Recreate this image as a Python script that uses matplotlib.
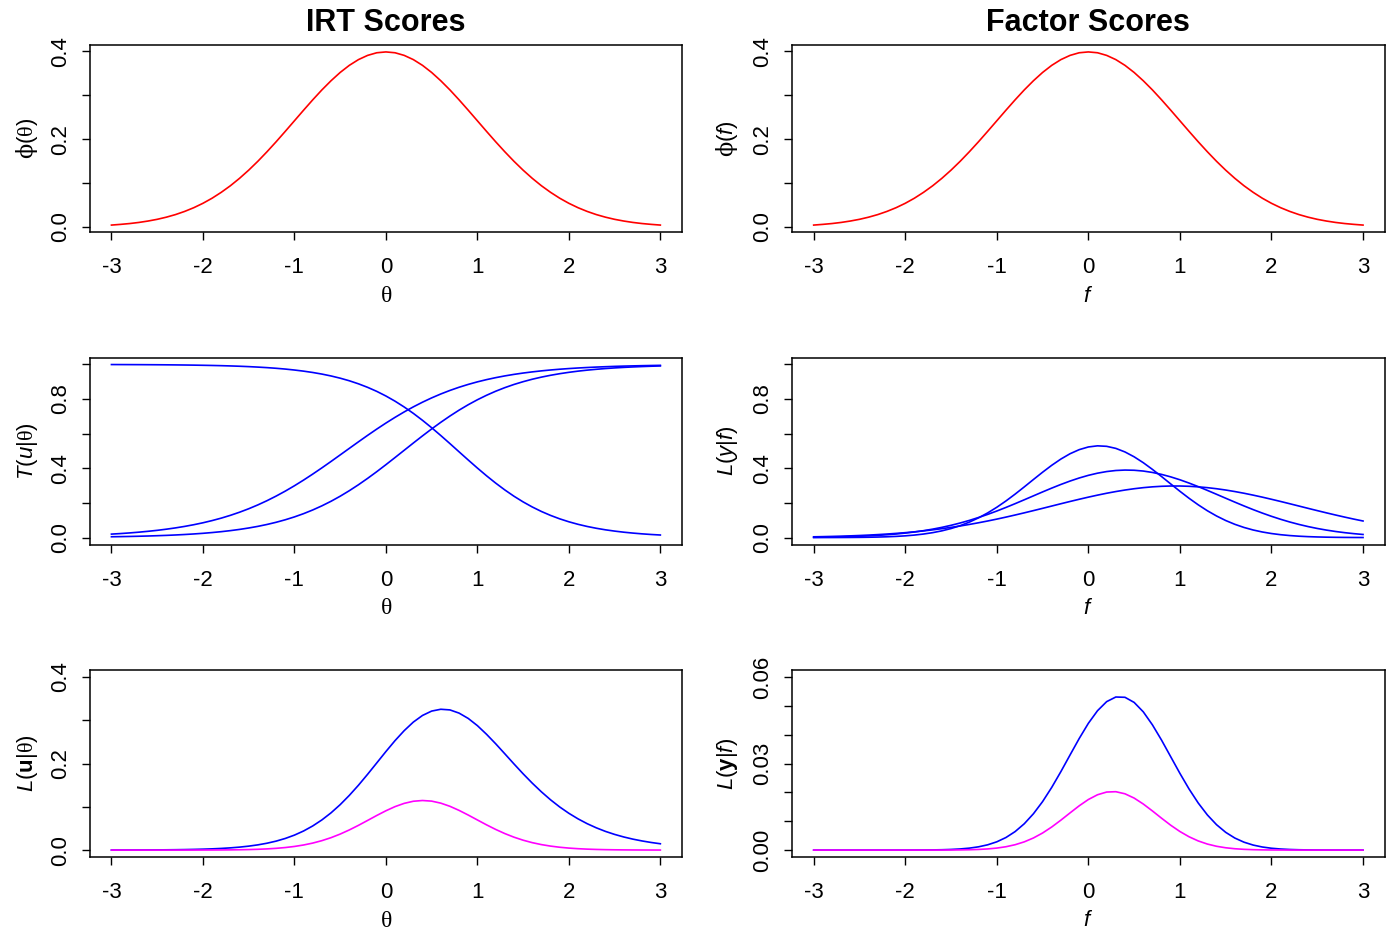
import matplotlib
matplotlib.use('Agg')
import matplotlib.pyplot as plt

plt.rcParams['font.family'] = ['Liberation Sans', 'DejaVu Sans']
plt.rcParams['mathtext.fontset'] = 'custom'
plt.rcParams['mathtext.rm'] = 'Liberation Sans'
plt.rcParams['mathtext.it'] = 'Liberation Sans:italic'
plt.rcParams['mathtext.bf'] = 'Liberation Sans:bold'
plt.rcParams['mathtext.sf'] = 'Liberation Serif'
plt.rcParams['mathtext.cal'] = 'DejaVu Serif'

# ---------------- data ----------------
grid = [-3.0, -2.9, -2.8, -2.7, -2.6, -2.5, -2.4, -2.3, -2.2, -2.1,
        -2.0, -1.9, -1.8, -1.7, -1.6, -1.5, -1.4, -1.3, -1.2, -1.1,
        -1.0, -0.9, -0.8, -0.7, -0.6, -0.5, -0.4, -0.3, -0.2, -0.1,
        0.0, 0.1, 0.2, 0.3, 0.4, 0.5, 0.6, 0.7, 0.8, 0.9,
        1.0, 1.1, 1.2, 1.3, 1.4, 1.5, 1.6, 1.7, 1.8, 1.9,
        2.0, 2.1, 2.2, 2.3, 2.4, 2.5, 2.6, 2.7, 2.8, 2.9,
        3.0]

# prior density (top panels)
prior = [0.0044, 0.0060, 0.0079, 0.0104, 0.0136, 0.0175, 0.0224, 0.0283, 0.0355, 0.0440,
         0.0540, 0.0656, 0.0790, 0.0940, 0.1109, 0.1295, 0.1497, 0.1714, 0.1942, 0.2179,
         0.2420, 0.2661, 0.2897, 0.3123, 0.3332, 0.3521, 0.3683, 0.3814, 0.3910, 0.3970,
         0.3989, 0.3970, 0.3910, 0.3814, 0.3683, 0.3521, 0.3332, 0.3123, 0.2897, 0.2661,
         0.2420, 0.2179, 0.1942, 0.1714, 0.1497, 0.1295, 0.1109, 0.0940, 0.0790, 0.0656,
         0.0540, 0.0440, 0.0355, 0.0283, 0.0224, 0.0175, 0.0136, 0.0104, 0.0079, 0.0060,
         0.0044]

# IRT trace lines T(u|theta)
irt_item1 = [0.9993, 0.9991, 0.9989, 0.9987, 0.9984, 0.9981, 0.9977, 0.9972, 0.9966, 0.9959,
             0.9950, 0.9940, 0.9928, 0.9913, 0.9895, 0.9873, 0.9846, 0.9815, 0.9777, 0.9732,
             0.9677, 0.9612, 0.9535, 0.9443, 0.9334, 0.9206, 0.9056, 0.8880, 0.8677, 0.8444,
             0.8177, 0.7877, 0.7541, 0.7173, 0.6772, 0.6344, 0.5893, 0.5427, 0.4952, 0.4480,
             0.4016, 0.3569, 0.3146, 0.2751, 0.2388, 0.2060, 0.1767, 0.1507, 0.1280, 0.1082,
             0.0912, 0.0766, 0.0642, 0.0537, 0.0448, 0.0374, 0.0311, 0.0259, 0.0215, 0.0178,
             0.0148]
irt_item2 = [0.0200, 0.0232, 0.0269, 0.0312, 0.0362, 0.0418, 0.0484, 0.0559, 0.0645, 0.0743,
             0.0854, 0.0981, 0.1123, 0.1284, 0.1464, 0.1664, 0.1886, 0.2130, 0.2396, 0.2683,
             0.2992, 0.3320, 0.3666, 0.4025, 0.4395, 0.4773, 0.5152, 0.5530, 0.5903, 0.6265,
             0.6613, 0.6944, 0.7257, 0.7549, 0.7819, 0.8067, 0.8293, 0.8498, 0.8682, 0.8846,
             0.8993, 0.9122, 0.9236, 0.9337, 0.9425, 0.9502, 0.9569, 0.9628, 0.9679, 0.9723,
             0.9761, 0.9794, 0.9822, 0.9847, 0.9868, 0.9887, 0.9903, 0.9916, 0.9928, 0.9938,
             0.9947]
irt_item3 = [0.0047, 0.0055, 0.0065, 0.0077, 0.0091, 0.0108, 0.0127, 0.0150, 0.0177, 0.0209,
             0.0246, 0.0290, 0.0341, 0.0401, 0.0471, 0.0553, 0.0647, 0.0757, 0.0883, 0.1028,
             0.1193, 0.1381, 0.1594, 0.1832, 0.2096, 0.2388, 0.2707, 0.3051, 0.3419, 0.3806,
             0.4209, 0.4623, 0.5042, 0.5461, 0.5873, 0.6274, 0.6657, 0.7020, 0.7360, 0.7673,
             0.7959, 0.8218, 0.8452, 0.8659, 0.8843, 0.9003, 0.9145, 0.9267, 0.9373, 0.9465,
             0.9544, 0.9612, 0.9670, 0.9719, 0.9762, 0.9798, 0.9829, 0.9855, 0.9877, 0.9896,
             0.9912]

# IRT likelihood (blue) and likelihood x prior (magenta), bottom left
irt_like = [0.00009, 0.00013, 0.00018, 0.00024, 0.00033, 0.00045, 0.00061, 0.00084, 0.00114, 0.00155,
            0.00209, 0.00283, 0.00381, 0.00511, 0.00682, 0.00908, 0.01202, 0.01582, 0.02068, 0.02684,
            0.03454, 0.04407, 0.05572, 0.06963, 0.08598, 0.1049, 0.1263, 0.1498, 0.1751, 0.2013,
            0.2276, 0.2529, 0.2759, 0.2957, 0.3110, 0.3211, 0.3253, 0.3238, 0.3164, 0.3041,
            0.2875, 0.2675, 0.2456, 0.2224, 0.1990, 0.1762, 0.1546, 0.1345, 0.1161, 0.09957,
            0.08496, 0.07214, 0.06098, 0.05140, 0.04316, 0.03619, 0.03027, 0.02526, 0.02108, 0.01754,
            0.01459]
irt_post = [0.0000004, 0.0000008, 0.0000014, 0.0000025, 0.0000045, 0.0000079, 0.0000138, 0.0000237, 0.0000404, 0.000068,
            0.000113, 0.000186, 0.000301, 0.00048, 0.000757, 0.001175, 0.001799, 0.002712, 0.004016, 0.005848,
            0.008359, 0.01173, 0.01614, 0.02175, 0.02865, 0.03694, 0.04652, 0.05713, 0.06846, 0.07992,
            0.09079, 0.1004, 0.1079, 0.1128, 0.1145, 0.1131, 0.1084, 0.1011, 0.09166, 0.08092,
            0.06958, 0.05829, 0.04770, 0.03812, 0.02979, 0.02282, 0.01714, 0.01264, 0.009172, 0.006532,
            0.004588, 0.003174, 0.002165, 0.001455, 0.000967, 0.000633, 0.000412, 0.000263, 0.000167, 0.000105,
            0.0000642]

# factor-model likelihoods L(y|f) (middle right)
fa_item1 = [0.0001, 0.00017, 0.00028, 0.00047, 0.00077, 0.00123, 0.00194, 0.0030, 0.00456, 0.00682,
            0.0100, 0.01442, 0.02043, 0.02841, 0.03886, 0.05217, 0.06885, 0.08926, 0.1137, 0.1423,
            0.1750, 0.2114, 0.2509, 0.2926, 0.3353, 0.3774, 0.4174, 0.4535, 0.4842, 0.5078,
            0.5233, 0.5298, 0.5270, 0.5151, 0.4945, 0.4665, 0.4324, 0.3937, 0.3523, 0.3096,
            0.2674, 0.2269, 0.1892, 0.1549, 0.1247, 0.09853, 0.07653, 0.05841, 0.04380, 0.03226,
            0.02335, 0.0166, 0.0116, 0.00796, 0.00537, 0.00356, 0.00232, 0.00148, 0.00093, 0.00057,
            0.00035]
fa_item2 = [0.00174, 0.00237, 0.00321, 0.00431, 0.00572, 0.00753, 0.00982, 0.01269, 0.01625, 0.02062,
            0.02592, 0.03227, 0.03982, 0.04870, 0.05897, 0.07077, 0.08416, 0.09914, 0.1158, 0.1338,
            0.1533, 0.1741, 0.1958, 0.2182, 0.2409, 0.2636, 0.2857, 0.3068, 0.3264, 0.3441,
            0.3594, 0.3719, 0.3813, 0.3874, 0.3899, 0.3888, 0.3842, 0.3761, 0.3648, 0.3505,
            0.3338, 0.3148, 0.2943, 0.2725, 0.2500, 0.2273, 0.2047, 0.1827, 0.1615, 0.1415,
            0.1228, 0.1056, 0.08993, 0.07593, 0.06349, 0.05261, 0.04321, 0.03514, 0.02833, 0.02262,
            0.01789]
fa_item3 = [0.00439, 0.00543, 0.00666, 0.00814, 0.00989, 0.01194, 0.01435, 0.01716, 0.02039, 0.02412,
            0.02835, 0.03317, 0.03859, 0.04467, 0.05141, 0.05884, 0.06699, 0.07587, 0.08544, 0.09571,
            0.1066, 0.1182, 0.1303, 0.1428, 0.1557, 0.1688, 0.1821, 0.1954, 0.2085, 0.2212,
            0.2335, 0.2451, 0.2560, 0.2658, 0.2746, 0.2821, 0.2883, 0.2930, 0.2962, 0.2978,
            0.2978, 0.2962, 0.2930, 0.2883, 0.2821, 0.2746, 0.2658, 0.2560, 0.2451, 0.2335,
            0.2212, 0.2085, 0.1954, 0.1821, 0.1688, 0.1557, 0.1428, 0.1303, 0.1182, 0.1066,
            0.0957]

# factor likelihood (blue) and likelihood x prior (magenta), bottom right
fa_like = [0.0, 0.0, 0.0, 0.0, 0.00000004, 0.00000011, 0.00000027, 0.00000065, 0.0000015, 0.0000034,
           0.0000074, 0.0000154, 0.0000314, 0.0000618, 0.000118, 0.000217, 0.000388, 0.000671, 0.001125, 0.001822,
           0.002860, 0.004350, 0.006401, 0.009117, 0.01258, 0.01679, 0.02172, 0.02719, 0.03295, 0.03865,
           0.04392, 0.04829, 0.05144, 0.05304, 0.05294, 0.05117, 0.04790, 0.04338, 0.03807, 0.03232,
           0.02658, 0.02116, 0.01631, 0.01217, 0.008794, 0.00615, 0.004164, 0.002732, 0.001734, 0.001066,
           0.000634, 0.000366, 0.000204, 0.00011, 0.0000575, 0.0000291, 0.0000143, 0.0000068, 0.0000031, 0.0000014,
           0.0000006]
fa_post = [0.0, 0.0, 0.0, 0.0, 0.0, 0.0, 0.0, 0.00000002, 0.00000005, 0.00000015,
           0.0000004, 0.000001, 0.0000025, 0.0000058, 0.0000131, 0.0000281, 0.0000581, 0.000115, 0.0002185, 0.000397,
           0.000692, 0.001158, 0.001854, 0.002847, 0.004192, 0.005912, 0.008000, 0.01037, 0.01288, 0.01534,
           0.01752, 0.01917, 0.02011, 0.02023, 0.01950, 0.01802, 0.01596, 0.01355, 0.01103, 0.0086,
           0.006432, 0.004611, 0.003167, 0.002086, 0.001316, 0.000796, 0.000462, 0.000257, 0.000137, 0.00007,
           0.0000342, 0.0000161, 0.0000072, 0.0000031, 0.0000013, 0.0000005, 0.0000002, 0.0000001, 0.0, 0.0,
           0.0]

xticks = [-3, -2, -1, 0, 1, 2, 3]
xtick_labels = ['-3', '-2', '-1', '0', '1', '2', '3']

titles = ['IRT Scores', 'Factor Scores']
left_xlabel = r'$\mathsf{θ}$'
right_xlabel = r'$\mathit{f}$'
left_ylabels = [r'$\mathcal{ϕ}(\mathsf{θ})$', r'$\mathit{T}(\mathit{u}|\mathsf{θ})$',
                r'$\mathit{L}(\mathbf{u}|\mathsf{θ})$']
right_ylabels = [r'$\mathcal{ϕ}(\mathit{f})$', r'$\mathit{L}(\mathit{y}|\mathit{f})$',
                 r'$\mathit{L}(\mathbf{y}|\mathit{f})$']

# ---------------- figure ----------------
W, H = 1392, 931
fig = plt.figure(figsize=(W / 100, H / 100), dpi=100)

col_x = [89.5, 791.7]
col_w = [592.8, 593.3]
row_top = [45.0, 357.5, 670.0]
row_h = 187.0


def make_ax(r, c):
    x0 = col_x[c] / W
    y0 = 1 - (row_top[r] + row_h) / H
    return fig.add_axes([x0, y0, col_w[c] / W, row_h / H])


def style(ax, ylim, yticks, ylabels):
    ax.set_xlim(-3.24, 3.24)
    ax.set_ylim(*ylim)
    ax.set_xticks(xticks)
    ax.set_xticklabels(xtick_labels)
    ax.set_yticks(yticks)
    ax.set_yticklabels(ylabels)
    ax.tick_params(axis='both', direction='out', length=6, width=1.0,
                   labelsize=16, color='black')
    ax.tick_params(axis='x', pad=12)
    ax.tick_params(axis='y', pad=7.5)
    for lbl in ax.get_yticklabels():
        lbl.set_rotation(90)
        lbl.set_va('center')
        lbl.set_ha('right')
    for sp in ax.spines.values():
        sp.set_linewidth(1.1)


def data_ylim(series):
    lo = min(min(s) for s in series)
    hi = max(max(s) for s in series)
    pad = 0.04 * (hi - lo)
    return (lo - pad, hi + pad)


lw = 1.2
red, blue, magenta = '#FF0000', '#0000FF', '#FF00FF'

t1 = ['0.0', '', '0.2', '', '0.4']
t1v = [0.0, 0.1, 0.2, 0.3, 0.4]
t2 = ['0.0', '', '0.4', '', '0.8', '']
t2v = [0.0, 0.2, 0.4, 0.6, 0.8, 1.0]
t3 = ['0.00', '', '', '0.03', '', '', '0.06']
t3v = [0.0, 0.01, 0.02, 0.03, 0.04, 0.05, 0.06]

# top row
for c in range(2):
    ax = make_ax(0, c)
    ax.plot(grid, prior, color=red, lw=lw)
    style(ax, data_ylim([prior]), t1v, t1)

# middle left
ax = make_ax(1, 0)
for s in (irt_item1, irt_item2, irt_item3):
    ax.plot(grid, s, color=blue, lw=lw)
style(ax, (-0.04, 1.04), t2v, t2)

# middle right
ax = make_ax(1, 1)
for s in (fa_item1, fa_item2, fa_item3):
    ax.plot(grid, s, color=blue, lw=lw)
style(ax, (-0.04, 1.04), t2v, t2)

# bottom left
ax = make_ax(2, 0)
ax.plot(grid, irt_like, color=blue, lw=lw)
ax.plot(grid, irt_post, color=magenta, lw=lw)
style(ax, (-0.016, 0.416), t1v, t1)

# bottom right
ax = make_ax(2, 1)
ax.plot(grid, fa_like, color=blue, lw=lw)
ax.plot(grid, fa_post, color=magenta, lw=lw)
style(ax, (-0.0024, 0.0624), t3v, t3)


def ftext(xp, yp, s, **kw):
    fig.text(xp / W, 1 - yp / H, s, ha='center', va='center', **kw)


col_cx = [385.9, 1088.3]
# titles
for c in range(2):
    ftext(col_cx[c], 23, titles[c], fontsize=22, fontweight='bold')

# x labels
xl_y = [296, 608.5, 921]
for r in range(3):
    ftext(col_cx[0], xl_y[r], left_xlabel, fontsize=17)
    ftext(col_cx[1], xl_y[r], right_xlabel, fontsize=16)

# y labels
yl_y = [138.5, 451, 763.5]
for r in range(3):
    ftext(27, yl_y[r], left_ylabels[r], fontsize=16, rotation=90)
    ftext(727.5, yl_y[r], right_ylabels[r], fontsize=16, rotation=90)

fig.savefig('out.png', dpi=100)
